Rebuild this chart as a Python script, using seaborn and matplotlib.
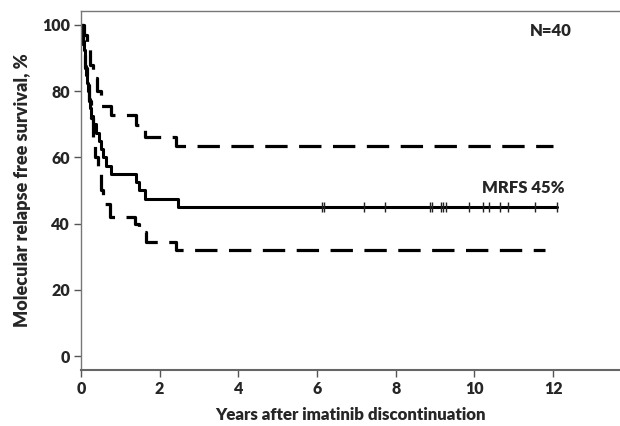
import matplotlib
matplotlib.use("Agg")
import matplotlib.pyplot as plt
import seaborn as sns
import pandas as pd

# ---- data ----
solid_t = [0, 0.03, 0.05, 0.07, 0.09, 0.11, 0.13, 0.15, 0.17, 0.20, 0.23, 0.26, 0.30,
           0.39, 0.45, 0.50, 0.56, 0.63, 0.77, 1.40, 1.47, 1.62, 2.46, 12.1]
solid_s = [100, 97.5, 95, 92.5, 90, 87.5, 85, 82.5, 80, 77.5, 75, 72.5, 70,
           67.5, 65, 62.5, 60, 57.5, 55, 52.5, 50, 47.5, 45, 45]

upper_t = [0, 0.08, 0.15, 0.22, 0.30, 0.40, 0.52, 0.75, 1.41, 1.62, 2.42, 12.0]
upper_s = [100, 97, 93, 88, 84, 80, 75.5, 72.8, 69.8, 66.2, 63.5, 63.5]

lower_t = [0, 0.05, 0.10, 0.15, 0.20, 0.25, 0.30, 0.36, 0.42, 0.50, 0.56, 0.74,
           1.37, 1.47, 1.65, 2.42, 11.8]
lower_s = [100, 93, 87, 82, 77, 72, 66, 60, 55, 50, 46, 42,
           40, 37.5, 34.5, 32, 32]

censor_t = [6.12, 6.17, 7.19, 7.72, 8.87, 8.93, 9.14, 9.21, 9.28, 9.85,
            10.21, 10.38, 10.65, 10.85, 11.55, 12.1]
censor_s = [45] * len(censor_t)

xticks = [0, 2, 4, 6, 8, 10, 12]
yticks = [0, 20, 40, 60, 80, 100]

sns.set_style("ticks")
plt.rcParams['font.family'] = ['Lato', 'DejaVu Sans']
plt.rcParams['font.weight'] = 'bold'

fig = plt.figure(figsize=(6.2, 4.26), dpi=100)
ax = fig.add_axes([81/620, 1-370/426, 1-81/620, (370-11)/426])

df_s = pd.DataFrame({"t": solid_t, "s": solid_s})
df_u = pd.DataFrame({"t": upper_t, "s": upper_s})
df_l = pd.DataFrame({"t": lower_t, "s": lower_s})

sns.lineplot(data=df_s, x="t", y="s", ax=ax, color="black", lw=2.2,
             drawstyle="steps-post", estimator=None, sort=False)
for d in (df_u, df_l):
    sns.lineplot(data=d, x="t", y="s", ax=ax, color="black", lw=2.3,
                 drawstyle="steps-post", estimator=None, sort=False,
                 dashes=False, linestyle=(0, (7, 3.6)))
ax.plot(censor_t, censor_s, linestyle="none", marker="|", markersize=7,
        markeredgewidth=1.0, color="#222222")

ax.set_xlim(0, 13.7)
ax.set_ylim(-4.2, 104.2)
ax.set_xticks(xticks)
ax.set_yticks(yticks)
ax.tick_params(axis="both", labelsize=11.5, length=5, width=1, color="#555555", pad=3)
for lab in ax.get_xticklabels() + ax.get_yticklabels():
    lab.set_fontweight("heavy")

ax.spines["right"].set_visible(False)
ax.spines["top"].set_visible(True)
for sp in ("left", "top"):
    ax.spines[sp].set_color("#777777")
    ax.spines[sp].set_linewidth(1.0)
ax.spines["bottom"].set_color("#666666")
ax.spines["bottom"].set_linewidth(1.5)

ax.set_xlabel("Years after imatinib discontinuation", fontsize=12.2, fontweight="heavy", labelpad=7)
ax.set_ylabel("Molecular relapse free survival, %", fontsize=13, fontweight="heavy", labelpad=8)

ax.text(11.95, 98.2, "N=40", fontsize=12, fontweight="heavy", ha="center", va="center")
ax.text(11.25, 50.8, "MRFS 45%", fontsize=12, fontweight="heavy", ha="center", va="center")

fig.savefig("out.png", dpi=100)
